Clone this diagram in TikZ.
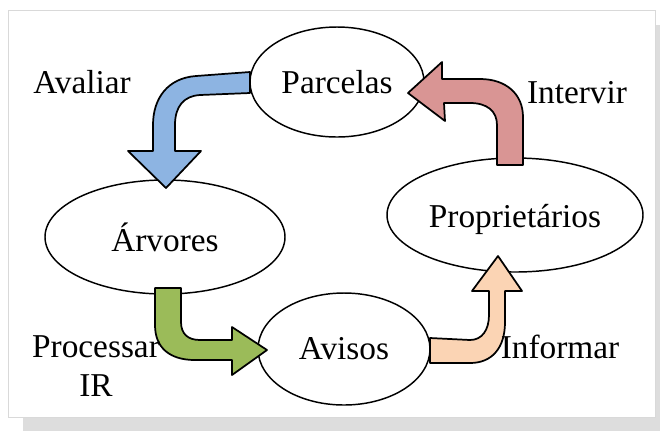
\documentclass[tikz,border=0pt]{standalone}
\usepackage{fontspec}
\setmainfont{Liberation Serif}
\usetikzlibrary{shapes.geometric}

\definecolor{avalblue}{RGB}{141,180,226}
\definecolor{intervred}{RGB}{217,149,148}
\definecolor{procgreen}{RGB}{155,187,89}
\definecolor{infopeach}{RGB}{251,212,180}
\definecolor{sombra}{RGB}{221,221,221}

\begin{document}
\begin{tikzpicture}[x=0.75pt, y=-0.75pt,
    every node/.style={font=\fontsize{25}{29}\selectfont},
    etapa/.style={ellipse, draw, line width=1.1pt, fill=white, inner sep=0pt},
    acao/.style={align=center},
    seta/.style={draw, line width=1.3pt, line join=round}]

    \useasboundingbox (0,0) rectangle (660,430);

    % -------------------------------
    % moldura com sombra
    % -------------------------------
    \fill[sombra] (23,25) rectangle (670,440);
    \draw[gray!30, fill=white] (8,10) rectangle (655,417);

    % -------------------------------
    % etapas do ciclo
    % -------------------------------
    \node[etapa, minimum width=130.5pt, minimum height=82.5pt] (parc) at (337,82) {Parcelas};
    \node[etapa, minimum width=180pt, minimum height=85.5pt] (arv) at (165,237) {Árvores};
    \node[etapa, minimum width=192pt, minimum height=85.5pt] (prop) at (515,215) {\raisebox{-9.5pt}[0pt][0pt]{Proprietários}};
    \node[etapa, minimum width=129pt, minimum height=84pt] (avis) at (344,349) {Avisos};

    % -------------------------------
    % setas curvas
    % -------------------------------
    % Parcelas -> Árvores
    \draw[seta, fill=avalblue] (250,72) -- (196,76)
        .. controls (168,78) and (153,98) .. (153,125) -- (153,151)
        -- (128,151) -- (166,188) -- (201,151) -- (175,151) -- (175,125)
        .. controls (175,106) and (184,96) .. (200,95) -- (250,93) -- cycle;

    % Árvores -> Avisos
    \draw[seta, fill=procgreen] (155,288) -- (155,325)
        .. controls (155,348) and (170,360) .. (195,360) -- (232,360)
        -- (232,375) -- (267,350) -- (232,327) -- (232,340) -- (200,340)
        .. controls (188,340) and (181,334) .. (181,322) -- (181,288) -- cycle;

    % Avisos -> Proprietários
    \draw[seta, fill=infopeach] (430,338) -- (470,340)
        .. controls (482,340) and (489,330) .. (489,315) -- (489,291)
        -- (472,291) -- (498,256) -- (522,291) -- (505,291) -- (505,322)
        .. controls (505,348) and (492,363) .. (470,363) -- (430,363) -- cycle;

    % Proprietários -> Parcelas
    \draw[seta, fill=intervred] (497,165) -- (497,125)
        .. controls (497,111) and (487,103) .. (470,103) -- (444,103)
        -- (445,121) -- (408,93) -- (442,62) -- (442,79) -- (480,79)
        .. controls (506,79) and (523,94) .. (523,117) -- (523,165) -- cycle;

    % -------------------------------
    % ações
    % -------------------------------
    \node[acao] (aval) at (82,82) {Avaliar};
    \node[acao] (interv) at (577,93) {Intervir};
    \node[acao] (proc) at (96,366) {Processar\\IR};
    \node[acao] (info) at (560,347) {Informar};

\end{tikzpicture}
\end{document}
